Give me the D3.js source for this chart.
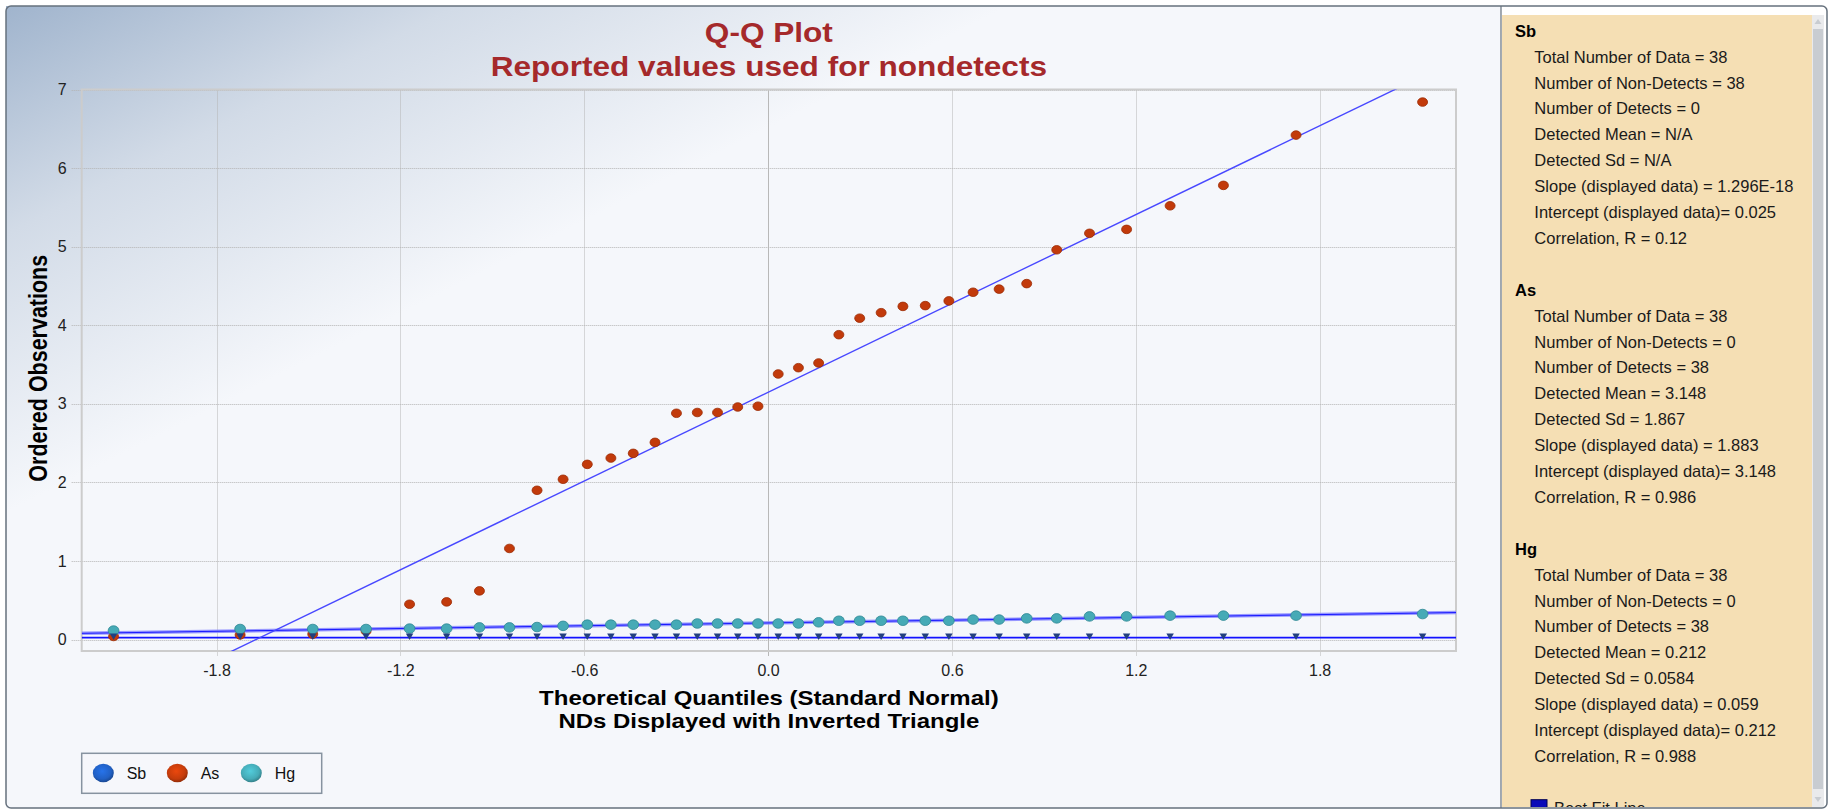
<!DOCTYPE html>
<html>
<head>
    <meta charset="utf-8" />
    <title>Q-Q Plot</title>
    <script src="https://d3js.org/d3.v7.min.js"></script>
    <style>
        body { margin: 0; background: #ffffff; }
        svg text { font-family: "Liberation Sans", Arial, sans-serif; }
    </style>
</head>
<body>
<svg id="qqPlot" width="1837" height="811"></svg>

<script>
    // ---- data ----
    const seriesNames = ["Sb", "As", "Hg"];
    const seriesColors = ["#2160c4", "#c53c0b", "#45abb7"];

    // theoretical quantiles (standard normal), 38 points
    const quantiles = [-2.136, -1.723, -1.486, -1.312, -1.170, -1.049, -0.942, -0.844, -0.754, -0.669,
        -0.590, -0.513, -0.440, -0.369, -0.299, -0.231, -0.165, -0.099, -0.033, 0.033,
        0.099, 0.165, 0.231, 0.299, 0.369, 0.440, 0.513, 0.590, 0.669, 0.754,
        0.844, 0.942, 1.049, 1.170, 1.312, 1.486, 1.723, 2.136];

    const sbValues = [0.025, 0.025, 0.025, 0.025, 0.025, 0.025, 0.025, 0.025, 0.025, 0.025,
        0.025, 0.025, 0.025, 0.025, 0.025, 0.025, 0.025, 0.025, 0.025, 0.025,
        0.025, 0.025, 0.025, 0.025, 0.025, 0.025, 0.025, 0.025, 0.025, 0.025,
        0.025, 0.025, 0.025, 0.025, 0.025, 0.025, 0.025, 0.025];

    const asValues = [0.04, 0.06, 0.07, 0.11, 0.45, 0.48, 0.62, 1.16, 1.90, 2.04,
        2.23, 2.31, 2.37, 2.51, 2.88, 2.89, 2.89, 2.96, 2.97, 3.38,
        3.46, 3.52, 3.88, 4.09, 4.16, 4.24, 4.25, 4.31, 4.42, 4.46,
        4.53, 4.96, 5.17, 5.22, 5.52, 5.78, 6.42, 6.84];

    const hgValues = [0.115, 0.135, 0.135, 0.135, 0.14, 0.14, 0.155, 0.155, 0.16, 0.175,
        0.19, 0.19, 0.19, 0.19, 0.19, 0.205, 0.205, 0.205, 0.205, 0.205,
        0.205, 0.22, 0.24, 0.24, 0.24, 0.24, 0.24, 0.24, 0.255, 0.255,
        0.27, 0.27, 0.295, 0.295, 0.305, 0.305, 0.305, 0.325];

    // best fit lines (from the stats panel)
    const fitSlope = [1.296e-18, 1.883, 0.059];
    const fitIntercept = [0.025, 3.148, 0.212];

    const xTicks = [-1.8, -1.2, -0.6, 0, 0.6, 1.2, 1.8];
    const yTicks = [0, 1, 2, 3, 4, 5, 6, 7];

    const titleLines = ["Q-Q Plot", "Reported values used for nondetects"];
    const xTitleLines = ["Theoretical Quantiles (Standard Normal)", "NDs Displayed with Inverted Triangle"];
    const yTitle = "Ordered Observations";

    // stats panel
    const statTotal = ["38", "38", "38"];
    const statNonDetects = ["38", "0", "0"];
    const statDetects = ["0", "38", "38"];
    const statMean = ["N/A", "3.148", "0.212"];
    const statSd = ["N/A", "1.867", "0.0584"];
    const statSlope = ["1.296E-18", "1.883", "0.059"];
    const statIntercept = ["0.025", "3.148", "0.212"];
    const statCorr = ["0.12", "0.986", "0.988"];

    // ---- layout ----
    const width = 1837, height = 811;
    const plot = { left: 81.7, right: 1456, top: 89.5, bottom: 651 };
    const stretch = 1.17; // the bold titles are drawn a bit wide

    const svg = d3.select("#qqPlot");
    const defs = svg.append("defs");

    // background gradient of the chart panel
    const bg = defs.append("linearGradient")
        .attr("id", "panelBg")
        .attr("gradientUnits", "userSpaceOnUse")
        .attr("x1", 6).attr("y1", 6).attr("x2", 210).attr("y2", 410);
    bg.append("stop").attr("offset", 0).attr("stop-color", "#a0b4cd");
    bg.append("stop").attr("offset", 0.45).attr("stop-color", "#d2dbe7");
    bg.append("stop").attr("offset", 1).attr("stop-color", "#f5f7fb");

    // sphere gradients for the legend
    seriesColors.forEach((c, i) => {
        const g = defs.append("radialGradient")
            .attr("id", "ball" + i)
            .attr("cx", "45%").attr("cy", "40%").attr("r", "60%");
        g.append("stop").attr("offset", 0).attr("stop-color", d3.color(c).brighter(0.5));
        g.append("stop").attr("offset", 0.7).attr("stop-color", c);
        g.append("stop").attr("offset", 1).attr("stop-color", d3.color(c).darker(0.8));
    });

    defs.append("clipPath").attr("id", "plotClip")
        .append("rect")
        .attr("x", plot.left).attr("y", plot.top)
        .attr("width", plot.right - plot.left).attr("height", plot.bottom - plot.top);

    defs.append("clipPath").attr("id", "statsClip")
        .append("rect")
        .attr("x", 1502).attr("y", 15).attr("width", 310).attr("height", 792);

    // panels
    svg.append("rect")
        .attr("x", 6).attr("y", 6).attr("width", 1495).attr("height", 802)
        .attr("fill", "url(#panelBg)");

    svg.append("rect")
        .attr("x", 1501).attr("y", 6).attr("width", 326).attr("height", 802)
        .attr("fill", "#ffffff");

    svg.append("rect")
        .attr("x", 1502).attr("y", 15).attr("width", 310).attr("height", 792)
        .attr("fill", "#f5dfb4");

    // scrollbar
    svg.append("rect")
        .attr("x", 1812).attr("y", 15).attr("width", 12).attr("height", 792)
        .attr("fill", "#e9eaec");
    svg.append("rect")
        .attr("x", 1813).attr("y", 29).attr("width", 10).attr("height", 760)
        .attr("fill", "#c8ccd1");
    svg.append("path")
        .attr("d", "M1814.5,24 L1818,19 L1821.5,24 Z")
        .attr("fill", "#c8ccd1");
    svg.append("path")
        .attr("d", "M1814.5,797 L1818,802 L1821.5,797 Z")
        .attr("fill", "#c8ccd1");

    // frame
    svg.append("rect")
        .attr("x", 6).attr("y", 6).attr("width", 1821).attr("height", 802)
        .attr("rx", 5)
        .attr("fill", "none")
        .attr("stroke", "#66717d")
        .attr("stroke-width", 1.5);
    svg.append("line")
        .attr("x1", 1501).attr("x2", 1501).attr("y1", 6).attr("y2", 808)
        .attr("stroke", "#66717d")
        .attr("stroke-width", 1.2);

    // ---- scales ----
    const xScale = d3.scaleLinear()
        .domain([-2.24, 2.245])
        .range([plot.left, plot.right]);

    const yScale = d3.scaleLinear()
        .domain([-0.145, 7])
        .range([plot.bottom, plot.top]);

    // gridlines (dotted)
    svg.append("g")
        .selectAll("line")
        .data(yTicks)
        .enter().append("line")
        .attr("x1", plot.left - 10)
        .attr("x2", plot.right)
        .attr("y1", d => Math.round(yScale(d)) + 0.5)
        .attr("y2", d => Math.round(yScale(d)) + 0.5)
        .attr("stroke", "#b4b4b4")
        .attr("stroke-dasharray", "1,1");

    svg.append("g")
        .selectAll("line")
        .data(xTicks)
        .enter().append("line")
        .attr("x1", d => Math.round(xScale(d)) + 0.5)
        .attr("x2", d => Math.round(xScale(d)) + 0.5)
        .attr("y1", plot.top)
        .attr("y2", plot.bottom + 5)
        .attr("stroke", d => d === 0 ? "#b8b8b8" : "#b4b4b4")
        .attr("stroke-dasharray", d => d === 0 ? null : "1,1");

    // plot border
    svg.append("rect")
        .attr("x", plot.left).attr("y", plot.top)
        .attr("width", plot.right - plot.left).attr("height", plot.bottom - plot.top)
        .attr("fill", "none")
        .attr("stroke", "#cccccc")
        .attr("stroke-width", 2);

    // axes (labels only)
    const xAxis = d3.axisBottom(xScale)
        .tickValues(xTicks)
        .tickFormat(d => d.toFixed(1))
        .tickSize(0)
        .tickPadding(14);

    const yAxis = d3.axisLeft(yScale)
        .tickValues(yTicks)
        .tickFormat(d => d)
        .tickSize(0)
        .tickPadding(15);

    const gx = svg.append("g")
        .attr("transform", `translate(0, ${plot.bottom})`)
        .call(xAxis);
    const gy = svg.append("g")
        .attr("transform", `translate(${plot.left}, 0)`)
        .call(yAxis);

    [gx, gy].forEach(g => {
        g.select(".domain").remove();
        g.selectAll("text")
            .style("font-family", '"Liberation Sans", Arial, sans-serif')
            .style("font-size", "16px")
            .attr("fill", "#222222");
    });

    // ---- best fit lines ----
    const lineGen = d3.line()
        .x(d => xScale(d[0]))
        .y(d => yScale(d[1]));

    const fitPoints = i => xScale.domain().map(q => [q, fitIntercept[i] + fitSlope[i] * q]);

    const lines = svg.append("g").attr("clip-path", "url(#plotClip)");

    // Hg: light band with a thin core
    lines.append("path")
        .datum(fitPoints(2))
        .attr("d", lineGen)
        .attr("fill", "none")
        .attr("stroke", "#8585ff")
        .attr("stroke-width", 3.5)
        .attr("stroke-opacity", 0.85);
    lines.append("path")
        .datum(fitPoints(2))
        .attr("d", lineGen)
        .attr("fill", "none")
        .attr("stroke", "#1a1aff")
        .attr("stroke-width", 1);

    // Sb
    lines.append("path")
        .datum(fitPoints(0))
        .attr("d", lineGen)
        .attr("fill", "none")
        .attr("stroke", "#1212ff")
        .attr("stroke-width", 1.8);

    // As
    lines.append("path")
        .datum(fitPoints(1))
        .attr("d", lineGen)
        .attr("fill", "none")
        .attr("stroke", "#4848ff")
        .attr("stroke-width", 1.4);

    // ---- points ----
    const pts = svg.append("g");

    pts.selectAll(".asDot")
        .data(asValues)
        .enter().append("ellipse")
        .attr("class", "asDot")
        .attr("cx", (d, i) => xScale(quantiles[i]))
        .attr("cy", d => yScale(d))
        .attr("rx", 5)
        .attr("ry", 4.3)
        .attr("fill", "#c23a0b")
        .attr("stroke", "#9c2c05")
        .attr("stroke-width", 0.8);

    pts.selectAll(".hgDot")
        .data(hgValues)
        .enter().append("ellipse")
        .attr("class", "hgDot")
        .attr("cx", (d, i) => xScale(quantiles[i]))
        .attr("cy", d => yScale(d))
        .attr("rx", 5.4)
        .attr("ry", 4.8)
        .attr("fill", "#46aab6")
        .attr("stroke", "#2e8893")
        .attr("stroke-width", 0.8);

    const tri = d3.symbol().type(d3.symbolTriangle).size(24);
    pts.selectAll(".sbMark")
        .data(sbValues)
        .enter().append("path")
        .attr("class", "sbMark")
        .attr("d", tri)
        .attr("transform", (d, i) => `translate(${xScale(quantiles[i])}, ${yScale(d) - 2}) rotate(180)`)
        .attr("fill", "#223f80");

    // ---- titles ----
    const cx = (plot.left + plot.right) / 2;

    svg.append("g")
        .selectAll("text")
        .data(titleLines)
        .enter().append("text")
        .attr("transform", (d, i) => `translate(${cx}, ${41.5 + i * 34}) scale(${stretch}, 1)`)
        .attr("text-anchor", "middle")
        .style("font-size", "27px")
        .style("font-weight", "bold")
        .attr("fill", "#a5292b")
        .text(d => d);

    svg.append("g")
        .selectAll("text")
        .data(xTitleLines)
        .enter().append("text")
        .attr("transform", (d, i) => `translate(${cx}, ${705 + i * 23}) scale(${stretch}, 1)`)
        .attr("text-anchor", "middle")
        .style("font-size", "20.5px")
        .style("font-weight", "bold")
        .attr("fill", "#000000")
        .text(d => d);

    svg.append("text")
        .attr("transform", `translate(46.5, ${(plot.top + plot.bottom) / 2 - 2}) scale(${stretch}, 1) rotate(-90)`)
        .attr("text-anchor", "middle")
        .style("font-size", "21.5px")
        .style("font-weight", "bold")
        .attr("fill", "#000000")
        .text(yTitle);

    // ---- legend ----
    const legend = svg.append("g");
    legend.append("rect")
        .attr("x", 81.7).attr("y", 753.3).attr("width", 240).attr("height", 40)
        .attr("fill", "#f6f7fb")
        .attr("stroke", "#8793a0")
        .attr("stroke-width", 1.5);

    const items = legend.selectAll(".item")
        .data(seriesNames)
        .enter().append("g")
        .attr("class", "item")
        .attr("transform", (d, i) => `translate(${103.3 + i * 74}, 773)`);

    items.append("ellipse")
        .attr("rx", 10.5)
        .attr("ry", 9.3)
        .attr("fill", (d, i) => `url(#ball${i})`);

    items.append("text")
        .attr("x", 23.4)
        .attr("y", 6)
        .style("font-size", "16px")
        .attr("fill", "#111111")
        .text(d => d);

    // ---- stats panel ----
    const lineStep = 25.9;
    const stats = svg.append("g").attr("clip-path", "url(#statsClip)");

    seriesNames.forEach((name, i) => {
        const top = 30.7 + i * 10 * lineStep;
        stats.append("text")
            .attr("x", 1515)
            .attr("y", top + 6)
            .style("font-size", "16.5px")
            .style("font-weight", "bold")
            .attr("fill", "#000000")
            .text(name);

        const rows = [
            "Total Number of Data = " + statTotal[i],
            "Number of Non-Detects = " + statNonDetects[i],
            "Number of Detects = " + statDetects[i],
            "Detected Mean = " + statMean[i],
            "Detected Sd = " + statSd[i],
            "Slope (displayed data) = " + statSlope[i],
            "Intercept (displayed data)= " + statIntercept[i],
            "Correlation, R = " + statCorr[i]
        ];

        stats.selectAll(".row" + i)
            .data(rows)
            .enter().append("text")
            .attr("class", "row" + i)
            .attr("x", 1534.3)
            .attr("y", (d, k) => top + (k + 1) * lineStep + 6)
            .style("font-size", "16.5px")
            .attr("fill", "#1a1a1a")
            .text(d => d);
    });

    // "Best Fit Line" checkbox, cut off at the bottom like in the original window
    const cbY = 30.7 + 30 * lineStep;
    stats.append("rect")
        .attr("x", 1531).attr("y", cbY - 8).attr("width", 16).attr("height", 16)
        .attr("fill", "#0a0ab8")
        .attr("stroke", "#000050");
    stats.append("text")
        .attr("x", 1554)
        .attr("y", cbY + 6)
        .style("font-size", "16.5px")
        .attr("fill", "#1a1a1a")
        .text("Best Fit Line");
</script>
</body>
</html>
